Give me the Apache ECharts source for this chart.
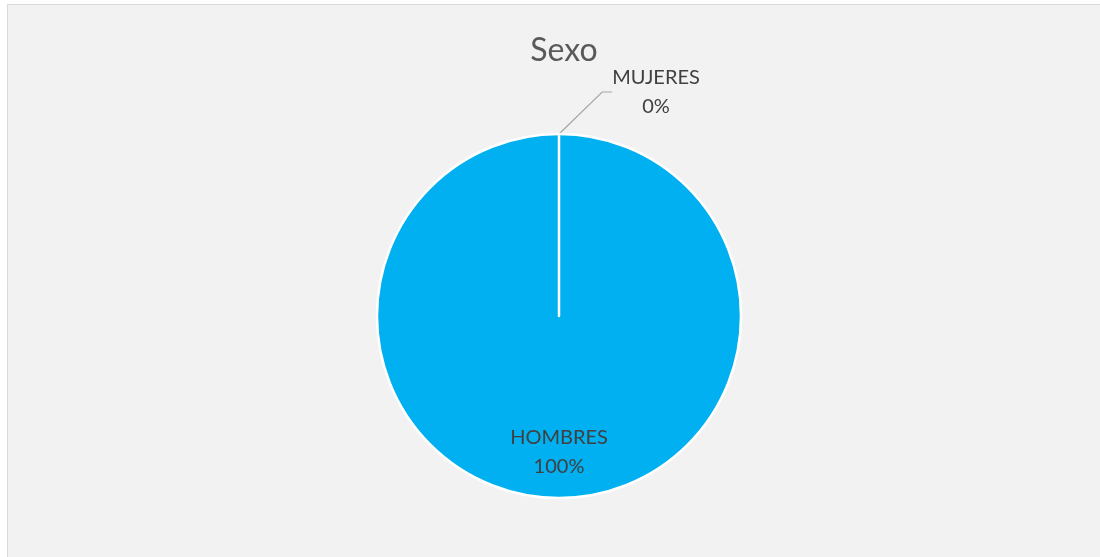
<!DOCTYPE html>
<html>
<head>
<meta charset="utf-8">
<script src="https://cdn.jsdelivr.net/npm/echarts@6/dist/echarts.min.js"></script>
<style>
html,body{margin:0;padding:0;background:#fff;}
#chart{width:1100px;height:557px;}
</style>
</head>
<body>
<div id="chart"></div>
<script>
const categories = ['HOMBRES', 'MUJERES'];
const values = [100, 0];
const titleText = 'Sexo';

const chart = echarts.init(document.getElementById('chart'), null, {renderer: 'canvas'});
const FONT = 'Lato';
chart.setOption({
  animation: false,
  backgroundColor: '#ffffff',
  graphic: [{
    type: 'rect',
    shape: {x: 7.5, y: 4.5, width: 1200, height: 700},
    style: {fill: '#f2f2f2', stroke: '#d9d9d9', lineWidth: 1},
    z: -10
  }],
  title: {
    text: titleText,
    left: 559, top: 30,
    textAlign: 'center',
    textStyle: {fontFamily: FONT, fontSize: 32, fontWeight: 'normal', color: '#595959'}
  },
  series: [{
    type: 'pie',
    center: [559, 316],
    radius: 182,
    startAngle: 90,
    clockwise: true,
    avoidLabelOverlap: false,
    itemStyle: {borderColor: '#ffffff', borderWidth: 2.5},
    label: {
      fontFamily: FONT, fontSize: 20, color: '#404040', lineHeight: 29,
      formatter: '{b}\n{d}%'
    },
    labelLine: {lineStyle: {color: '#a6a6a6', width: 1.2}},
    labelLayout: function (p) {
      if (p.dataIndex === 1) {
        return {x: 656, y: 92, align: 'center', verticalAlign: 'middle'};
      }
      return {x: 559, y: 452, align: 'center', verticalAlign: 'middle'};
    },
    data: categories.map((c, i) => ({
      name: c,
      value: values[i],
      itemStyle: {color: '#00b0f0'},
      label: {position: i === 1 ? 'outside' : 'inside'},
      labelLine: {show: i === 1, length: 40, length2: 10}
    }))
  }]
});
</script>
</body>
</html>
